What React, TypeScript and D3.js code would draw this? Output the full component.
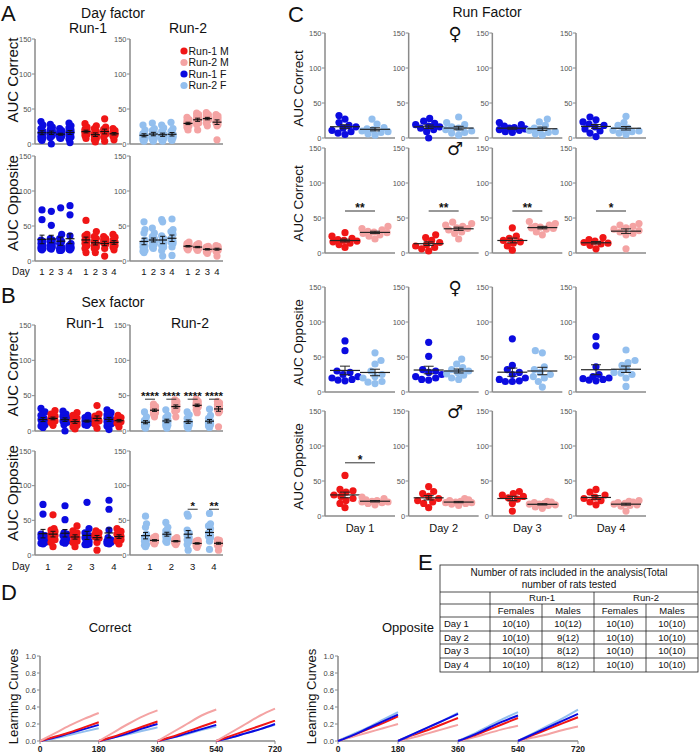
import React from "react";
import * as d3 from "d3";

const FONT = "'Liberation Sans', Arial, Helvetica, sans-serif";
const C_R1M = "#f01616";
const C_R2M = "#f4a3a3";
const C_R1F = "#0b0be0";
const C_R2F = "#93bfee";
const AXIS = "#8a8a8a";

const days = ["1", "2", "3", "4"];
const dayTitles = ["Day 1", "Day 2", "Day 3", "Day 4"];
const aucTicks = [0, 50, 100, 150];
const lcYTicks = [0, 0.2, 0.4, 0.6, 0.8, 1.0];
const lcXTicks = [0, 180, 360, 540, 720];
const lcSampleX = [0, 45, 90, 135, 180];
const legendNames = ["Run-1 M", "Run-2 M", "Run-1 F", "Run-2 F"];
const legendColors = [C_R1M, C_R2M, C_R1F, C_R2F];

// AUC Correct, per day
const correctRun1F = [
  [32, 27, 22, 18, 16, 14, 11, 9, 7, 5],
  [28, 24, 21, 19, 17, 16, 14, 12, 9, 0],
  [22, 19, 17, 15, 14, 13, 12, 11, 9, 8],
  [30, 26, 23, 20, 18, 16, 13, 10, 7, 2],
];
const correctRun2F = [
  [27, 20, 15, 13, 12, 10, 9, 8, 6, 4],
  [30, 22, 19, 16, 14, 12, 10, 8, 7, 4],
  [27, 23, 18, 14, 12, 11, 9, 8, 6, 4],
  [31, 22, 18, 14, 12, 11, 10, 9, 7, 5],
];
const correctRun1M = [
  [29, 24, 21, 19, 18, 17, 16, 14, 12, 8],
  [26, 22, 18, 15, 12, 10, 8, 6, 3],
  [36, 24, 21, 18, 16, 14, 10, 4],
  [22, 19, 17, 15, 14, 13, 11, 6],
];
const correctRun2M = [
  [38, 35, 33, 31, 30, 29, 28, 26, 24, 20],
  [44, 42, 40, 38, 36, 35, 33, 30, 28, 20],
  [45, 42, 40, 38, 37, 36, 35, 34, 30, 26],
  [42, 40, 38, 36, 34, 32, 30, 28, 26, 6],
];
// AUC Opposite, per day
const oppositeRun1F = [
  [73, 59, 30, 28, 25, 22, 20, 18, 17, 16],
  [71, 51, 32, 30, 28, 25, 22, 20, 18, 17],
  [76, 38, 32, 28, 25, 20, 18, 16, 15, 15],
  [79, 66, 36, 25, 22, 20, 19, 18, 17, 16],
];
const oppositeRun2F = [
  [56, 45, 40, 30, 25, 22, 20, 15, 14, 12],
  [47, 40, 35, 32, 30, 28, 26, 24, 20, 18],
  [59, 56, 36, 32, 28, 25, 22, 20, 15, 7],
  [60, 45, 42, 38, 32, 28, 27, 25, 20, 8],
];
const oppositeRun1M = [
  [58, 38, 36, 34, 30, 28, 25, 22, 18, 12],
  [42, 35, 32, 28, 25, 22, 20, 18, 12],
  [35, 32, 30, 28, 26, 24, 18, 7],
  [38, 34, 30, 27, 25, 22, 20, 16],
];
const oppositeRun2M = [
  [27, 25, 23, 22, 21, 20, 20, 19, 18, 16],
  [25, 23, 22, 21, 20, 19, 19, 18, 17, 15],
  [21, 20, 19, 18, 17, 17, 16, 15, 13, 11],
  [22, 21, 20, 19, 18, 17, 16, 15, 14, 7],
];

// significance labels
const sexStarsCorrect = ["****", "****", "****", "****"];
const sexStarsOpposite = ["", "", "*", "**"];
const runStarsCorrectM = ["**", "**", "**", "*"];
const runStarsOppositeM = ["*", "", "", ""];

// Learning curves (per day, sampled at lcSampleX)
const lcCorrectR1M = [
  [0, 0.05, 0.1, 0.16, 0.22], [0, 0.05, 0.11, 0.17, 0.23], [0, 0.05, 0.11, 0.17, 0.23], [0, 0.06, 0.12, 0.18, 0.24],
];
const lcCorrectR2M = [
  [0, 0.09, 0.18, 0.26, 0.33], [0, 0.1, 0.2, 0.29, 0.36], [0, 0.1, 0.2, 0.3, 0.37], [0, 0.1, 0.2, 0.3, 0.38],
];
const lcCorrectR1F = [
  [0, 0.04, 0.09, 0.14, 0.19], [0, 0.04, 0.09, 0.15, 0.2], [0, 0.04, 0.09, 0.14, 0.19], [0, 0.04, 0.09, 0.14, 0.2],
];
const lcCorrectR2F = [
  [0, 0.03, 0.07, 0.11, 0.15], [0, 0.04, 0.08, 0.12, 0.16], [0, 0.04, 0.08, 0.13, 0.17], [0, 0.04, 0.09, 0.14, 0.19],
];
const lcOppositeR1M = [
  [0, 0.07, 0.14, 0.21, 0.29], [0, 0.07, 0.13, 0.2, 0.27], [0, 0.06, 0.13, 0.2, 0.27], [0, 0.07, 0.14, 0.21, 0.28],
];
const lcOppositeR2M = [
  [0, 0.05, 0.1, 0.15, 0.2], [0, 0.04, 0.09, 0.14, 0.19], [0, 0.04, 0.09, 0.14, 0.18], [0, 0.04, 0.08, 0.13, 0.17],
];
const lcOppositeR1F = [
  [0, 0.07, 0.15, 0.23, 0.31], [0, 0.08, 0.16, 0.24, 0.32], [0, 0.07, 0.15, 0.23, 0.3], [0, 0.08, 0.16, 0.24, 0.32],
];
const lcOppositeR2F = [
  [0, 0.08, 0.16, 0.25, 0.34], [0, 0.08, 0.16, 0.24, 0.33], [0, 0.08, 0.17, 0.26, 0.34], [0, 0.09, 0.18, 0.27, 0.37],
];

// Table E
const tableDays = ["Day 1", "Day 2", "Day 3", "Day 4"];
const tableRun1F = ["10(10)", "10(10)", "10(10)", "10(10)"];
const tableRun1M = ["10(12)", "9(12)", "8(12)", "8(12)"];
const tableRun2F = ["10(10)", "10(10)", "10(10)", "10(10)"];
const tableRun2M = ["10(10)", "10(10)", "10(10)", "10(10)"];

type Scale = d3.ScaleLinear<number, number>;

function swarm(vals: number[], y: Scale, cx: number, spread: number, gap: number) {
  const order = vals.map((_, i) => i).sort((a, b) => vals[a] - vals[b]);
  const placed: [number, number][] = [];
  const out: [number, number][] = new Array(vals.length);
  order.forEach((i, n) => {
    const py = y(vals[i]);
    const cands = [0];
    for (let k = 1; k <= spread; k++) {
      if (n % 2) cands.push(-k, k);
      else cands.push(k, -k);
    }
    let bestX = 0;
    let bestD = -1;
    for (const dx of cands) {
      let md = Infinity;
      for (const [qx, qy] of placed) md = Math.min(md, Math.hypot(qx - dx, qy - py));
      if (md >= gap) {
        bestX = dx;
        break;
      }
      if (md > bestD) {
        bestD = md;
        bestX = dx;
      }
    }
    placed.push([bestX, py]);
    out[i] = [cx + bestX, py];
  });
  return out;
}

function DotGroup({ vals, cx, y, color, spread, meanHW, capHW, r = 3.6, gap = 6.4, lineColor = "#111" }: any) {
  const pts = swarm(vals, y, cx, spread, gap);
  const m = d3.mean(vals) as number;
  const sem = (d3.deviation(vals) as number) / Math.sqrt(vals.length);
  return (
    <g>
      {pts.map(([px, py], i) => (
        <circle key={i} cx={px} cy={py} r={r} fill={color} />
      ))}
      <line x1={cx - meanHW} x2={cx + meanHW} y1={y(m)} y2={y(m)} stroke={lineColor} strokeWidth={1.2} />
      <line x1={cx} x2={cx} y1={y(m - sem)} y2={y(m + sem)} stroke={lineColor} strokeWidth={1} />
      <line x1={cx - capHW} x2={cx + capHW} y1={y(m + sem)} y2={y(m + sem)} stroke={lineColor} strokeWidth={1} />
      <line x1={cx - capHW} x2={cx + capHW} y1={y(m - sem)} y2={y(m - sem)} stroke={lineColor} strokeWidth={1} />
    </g>
  );
}

function AucAxis({ x, xEnd, y }: { x: number; xEnd: number; y: Scale }) {
  return (
    <g>
      <line x1={x} x2={x} y1={y(150)} y2={y(0)} stroke={AXIS} strokeWidth={1.5} />
      <line x1={x} x2={xEnd} y1={y(0)} y2={y(0)} stroke={AXIS} strokeWidth={1.5} />
      {aucTicks.map((t) => (
        <g key={t}>
          <line x1={x - 3} x2={x} y1={y(t)} y2={y(t)} stroke={AXIS} strokeWidth={1} />
          <text x={x - 3.5} y={y(t)} dy="0.35em" textAnchor="end" fontSize={7.5} fill="#555">
            {t}
          </text>
        </g>
      ))}
    </g>
  );
}

function Sig({ x1, x2, y, label, fs = 12 }: any) {
  if (!label) return null;
  return (
    <g>
      <line x1={x1} x2={x2} y1={y} y2={y} stroke="#333" strokeWidth={1} />
      <text x={(x1 + x2) / 2} y={y + 1} textAnchor="middle" fontSize={fs} fontWeight="bold" fill="#111">
        {label}
      </text>
    </g>
  );
}

function YLabel({ x, y, text, fs }: any) {
  return (
    <text transform={`translate(${x},${y}) rotate(-90)`} textAnchor="middle" fontSize={fs} fill="#111">
      {text}
    </text>
  );
}

function LcChart({ ax, xEnd, y0, y1, title, titleX, series }: any) {
  const x = d3.scaleLinear().domain([0, 720]).range([ax, xEnd]);
  const y = d3.scaleLinear().domain([0, 1]).range([y0, y1]);
  const line = d3
    .line<[number, number]>()
    .x((d) => x(d[0]))
    .y((d) => y(d[1]))
    .curve(d3.curveMonotoneX);
  return (
    <g>
      <text x={titleX} y={y1 - 24} textAnchor="middle" fontSize={13} fill="#111">
        {title}
      </text>
      <YLabel x={ax - 22} y={(y0 + y1) / 2 - 2} text="Learning Curves" fs={13} />
      <line x1={ax} x2={ax} y1={y(1)} y2={y(0)} stroke={AXIS} strokeWidth={1.5} />
      <line x1={ax} x2={xEnd} y1={y(0)} y2={y(0)} stroke={AXIS} strokeWidth={1.5} />
      {lcYTicks.map((t) => (
        <g key={t}>
          <line x1={ax - 3} x2={ax} y1={y(t)} y2={y(t)} stroke={AXIS} />
          <text x={ax - 4} y={y(t)} dy="0.35em" textAnchor="end" fontSize={7.5} fill="#444">
            {d3.format(".1f")(t)}
          </text>
        </g>
      ))}
      {lcXTicks.map((t) => (
        <g key={t}>
          <line x1={x(t)} x2={x(t)} y1={y0} y2={y0 + 3} stroke={AXIS} />
          <text x={x(t)} y={y0 + 11} textAnchor="middle" fontSize={8.5} fontWeight="bold" fill="#222">
            {t}
          </text>
        </g>
      ))}
      {series.map((s: any, si: number) =>
        s.data.map((seg: number[], di: number) => (
          <path
            key={si + "-" + di}
            d={line(seg.map((v, k) => [di * 180 + lcSampleX[k], v]) as [number, number][]) || ""}
            fill="none"
            stroke={s.color}
            strokeWidth={2}
          />
        ))
      )}
    </g>
  );
}

export default function App() {
  const aCorr = d3.scaleLinear().domain([0, 150]).range([144, 39]);
  const aOpp = d3.scaleLinear().domain([0, 150]).range([261, 156]);
  const bCorr = d3.scaleLinear().domain([0, 150]).range([431, 325]);
  const bOpp = d3.scaleLinear().domain([0, 150]).range([555, 451]);
  const cRows = [
    [138, 33],
    [253, 148],
    [392, 287],
    [516, 411],
  ].map((r) => d3.scaleLinear().domain([0, 150]).range(r));

  // A positions
  const aR1F = d3.scaleLinear().domain([0, 3]).range([42, 70]);
  const aR1M = d3.scaleLinear().domain([0, 3]).range([86, 114]);
  const aR2F = d3.scaleLinear().domain([0, 3]).range([144, 172]);
  const aR2M = d3.scaleLinear().domain([0, 3]).range([188, 217]);
  // B positions
  const bR1 = d3.scaleLinear().domain([0, 3]).range([48, 114]);
  const bR2 = d3.scaleLinear().domain([0, 3]).range([150, 214]);
  // C column axes
  const cAx = d3.scaleLinear().domain([0, 3]).range([325, 576]);

  const aSets = [
    { y: aCorr, r1f: correctRun1F, r1m: correctRun1M, r2f: correctRun2F, r2m: correctRun2M },
    { y: aOpp, r1f: oppositeRun1F, r1m: oppositeRun1M, r2f: oppositeRun2F, r2m: oppositeRun2M },
  ];
  const bSets = [
    { y: bCorr, r1f: correctRun1F, r1m: correctRun1M, r2f: correctRun2F, r2m: correctRun2M, stars: sexStarsCorrect, sigV: 45 },
    { y: bOpp, r1f: oppositeRun1F, r1m: oppositeRun1M, r2f: oppositeRun2F, r2m: oppositeRun2M, stars: sexStarsOpposite, sigV: 66 },
  ];
  const cSets = [
    { a: correctRun1F, b: correctRun2F, ca: C_R1F, cb: C_R2F, stars: null, sigV: 0, sym: "♀", label: "AUC Correct" },
    { a: correctRun1M, b: correctRun2M, ca: C_R1M, cb: C_R2M, stars: runStarsCorrectM, sigV: 60, sym: "♂", label: "AUC Correct" },
    { a: oppositeRun1F, b: oppositeRun2F, ca: C_R1F, cb: C_R2F, stars: null, sigV: 0, sym: "♀", label: "AUC Opposite" },
    { a: oppositeRun1M, b: oppositeRun2M, ca: C_R1M, cb: C_R2M, stars: runStarsOppositeM, sigV: 76, sym: "♂", label: "AUC Opposite" },
  ];

  // Table geometry
  const tX = [440, 490, 542, 594, 646, 698];
  const tY = [565, 592, 604, 617, 631, 644, 658, 672];

  return (
    <svg
      width={700}
      height={753}
      style={{ position: "absolute", left: 0, top: 0, background: "#fff" }}
      fontFamily={FONT}
    >
      <rect width={700} height={753} fill="#fff" />
      {/* Panel letters */}
      <text x={1} y={21} fontSize={22} fill="#111">A</text>
      <text x={1} y={303} fontSize={22} fill="#111">B</text>
      <text x={288} y={22} fontSize={22} fill="#111">C</text>
      <text x={1} y={600} fontSize={22} fill="#111">D</text>
      <text x={418} y={570} fontSize={22} fill="#111">E</text>

      {/* ---------- Panel A ---------- */}
      <text x={113} y={18} textAnchor="middle" fontSize={14} fill="#111">Day factor</text>
      <text x={88} y={33} textAnchor="middle" fontSize={14} fill="#111">Run-1</text>
      <text x={188} y={33} textAnchor="middle" fontSize={14} fill="#111">Run-2</text>
      <YLabel x={18} y={80} text="AUC Correct" fs={15} />
      <YLabel x={18} y={203} text="AUC Opposite" fs={15} />
      {aSets.map((s, si) => (
        <g key={si}>
          <AucAxis x={35} xEnd={122} y={s.y} />
          <AucAxis x={130} xEnd={223} y={s.y} />
          {days.map((_, d) => (
            <g key={d}>
              <DotGroup vals={s.r1f[d]} cx={aR1F(d)} y={s.y} color={C_R1F} spread={1.5} meanHW={4.5} capHW={2.5} />
              <DotGroup vals={s.r1m[d]} cx={aR1M(d)} y={s.y} color={C_R1M} spread={1.5} meanHW={4.5} capHW={2.5} />
              <DotGroup vals={s.r2f[d]} cx={aR2F(d)} y={s.y} color={C_R2F} spread={1.5} meanHW={4.5} capHW={2.5} />
              <DotGroup vals={s.r2m[d]} cx={aR2M(d)} y={s.y} color={C_R2M} spread={1.5} meanHW={4.5} capHW={2.5} />
            </g>
          ))}
        </g>
      ))}
      <text x={12} y={275} fontSize={10} fill="#111">Day</text>
      {days.map((d, i) => (
        <g key={d}>
          <text x={aR1F(i)} y={275} textAnchor="middle" fontSize={9.5} fill="#111">{d}</text>
          <text x={aR1M(i)} y={275} textAnchor="middle" fontSize={9.5} fill="#111">{d}</text>
          <text x={aR2F(i)} y={275} textAnchor="middle" fontSize={9.5} fill="#111">{d}</text>
          <text x={aR2M(i)} y={275} textAnchor="middle" fontSize={9.5} fill="#111">{d}</text>
        </g>
      ))}
      {/* legend */}
      {legendNames.map((n, i) => (
        <g key={n}>
          <circle cx={184} cy={51 + i * 11.5} r={3.6} fill={legendColors[i]} />
          <text x={188.5} y={51 + i * 11.5} dy="0.36em" fontSize={10.5} fill="#111">{n}</text>
        </g>
      ))}

      {/* ---------- Panel B ---------- */}
      <text x={113} y={307} textAnchor="middle" fontSize={14} fill="#111">Sex factor</text>
      <text x={85} y={328} textAnchor="middle" fontSize={14} fill="#111">Run-1</text>
      <text x={190} y={328} textAnchor="middle" fontSize={14} fill="#111">Run-2</text>
      <YLabel x={18} y={374} text="AUC Correct" fs={15} />
      <YLabel x={18} y={493} text="AUC Opposite" fs={15} />
      {bSets.map((s, si) => (
        <g key={si}>
          <AucAxis x={35} xEnd={122} y={s.y} />
          <AucAxis x={130} xEnd={223} y={s.y} />
          {days.map((_, d) => (
            <g key={d}>
              <DotGroup vals={s.r1f[d]} cx={bR1(d) - 5} y={s.y} color={C_R1F} spread={2} meanHW={4.5} capHW={2.5} />
              <DotGroup vals={s.r1m[d]} cx={bR1(d) + 5} y={s.y} color={C_R1M} spread={2} meanHW={4.5} capHW={2.5} />
              <DotGroup vals={s.r2f[d]} cx={bR2(d) - 4.5} y={s.y} color={C_R2F} spread={1.5} meanHW={4.5} capHW={2.5} />
              <DotGroup vals={s.r2m[d]} cx={bR2(d) + 4.5} y={s.y} color={C_R2M} spread={1.5} meanHW={4.5} capHW={2.5} />
              <Sig x1={bR2(d) - 5} x2={bR2(d) + 5} y={s.y(s.sigV)} label={s.stars[d]} fs={11.5} />
            </g>
          ))}
        </g>
      ))}
      <text x={12} y={570} fontSize={10} fill="#111">Day</text>
      {days.map((d, i) => (
        <g key={d}>
          <text x={bR1(i)} y={570} textAnchor="middle" fontSize={9.5} fill="#111">{d}</text>
          <text x={bR2(i)} y={570} textAnchor="middle" fontSize={9.5} fill="#111">{d}</text>
        </g>
      ))}

      {/* ---------- Panel C ---------- */}
      <text x={487} y={17} textAnchor="middle" fontSize={14} fill="#111">Run Factor</text>
      {cSets.map((s, ri) => {
        const y = cRows[ri];
        return (
          <g key={ri}>
            <YLabel x={303} y={(y(0) + y(150)) / 2 + 3} text={s.label} fs={13.5} />
            <text
              x={455}
              y={y(150) + 1}
              dy="0.35em"
              textAnchor="middle"
              fontSize={18}
              fontFamily="'DejaVu Sans', sans-serif"
              fill="#111"
            >
              {s.sym}
            </text>
            {days.map((_, d) => {
              const ax = cAx(d);
              return (
                <g key={d}>
                  <AucAxis x={ax} xEnd={ax + 70} y={y} />
                  <DotGroup vals={s.a[d]} cx={ax + 20} y={y} color={s.ca} spread={13} meanHW={15} capHW={5} lineColor="#222" />
                  <DotGroup vals={s.b[d]} cx={ax + 50} y={y} color={s.cb} spread={13} meanHW={15} capHW={5} lineColor="#222" />
                  {s.stars ? <Sig x1={ax + 20} x2={ax + 50} y={y(s.sigV)} label={s.stars[d]} fs={12} /> : null}
                </g>
              );
            })}
          </g>
        );
      })}
      {dayTitles.map((t, i) => (
        <text key={t} x={cAx(i) + 35} y={532} textAnchor="middle" fontSize={11} fill="#111">{t}</text>
      ))}

      {/* ---------- Panel D ---------- */}
      <LcChart
        ax={40}
        xEnd={275}
        y0={741}
        y1={656}
        title="Correct"
        titleX={110}
        series={[
          { color: C_R2F, data: lcCorrectR2F },
          { color: C_R1F, data: lcCorrectR1F },
          { color: C_R1M, data: lcCorrectR1M },
          { color: C_R2M, data: lcCorrectR2M },
        ]}
      />
      <LcChart
        ax={338}
        xEnd={578}
        y0={741}
        y1={656}
        title="Opposite"
        titleX={408}
        series={[
          { color: C_R2M, data: lcOppositeR2M },
          { color: C_R1M, data: lcOppositeR1M },
          { color: C_R2F, data: lcOppositeR2F },
          { color: C_R1F, data: lcOppositeR1F },
        ]}
      />

      {/* ---------- Panel E (table) ---------- */}
      <g stroke="#222" strokeWidth={0.8} fill="none">
        <rect x={tX[0]} y={tY[0]} width={tX[5] - tX[0]} height={tY[7] - tY[0]} />
        {tY.slice(1, 7).map((yy, i) => (
          <line key={i} x1={tX[0]} x2={tX[5]} y1={yy} y2={yy} />
        ))}
        <line x1={tX[1]} x2={tX[1]} y1={tY[1]} y2={tY[7]} />
        <line x1={tX[3]} x2={tX[3]} y1={tY[1]} y2={tY[7]} />
        <line x1={tX[2]} x2={tX[2]} y1={tY[2]} y2={tY[7]} />
        <line x1={tX[4]} x2={tX[4]} y1={tY[2]} y2={tY[7]} />
      </g>
      <g fontSize={9.5} fill="#111" textAnchor="middle">
        <text x={569} y={576} fontSize={10}>Number of rats included in the analysis(Total</text>
        <text x={569} y={588} fontSize={10}>number of rats tested</text>
        <text x={(tX[1] + tX[3]) / 2} y={601}>Run-1</text>
        <text x={(tX[3] + tX[5]) / 2} y={601}>Run-2</text>
        {["Females", "Males", "Females", "Males"].map((h, i) => (
          <text key={i} x={(tX[i + 1] + tX[i + 2]) / 2} y={614}>{h}</text>
        ))}
        {tableDays.map((d, r) => {
          const yy = (tY[3 + r] + tY[4 + r]) / 2 + 3.3;
          const row = [tableRun1F[r], tableRun1M[r], tableRun2F[r], tableRun2M[r]];
          return (
            <g key={d}>
              <text x={tX[0] + 4} y={yy} textAnchor="start">{d}</text>
              {row.map((v, c) => (
                <text key={c} x={(tX[c + 1] + tX[c + 2]) / 2} y={yy}>{v}</text>
              ))}
            </g>
          );
        })}
      </g>
    </svg>
  );
}
